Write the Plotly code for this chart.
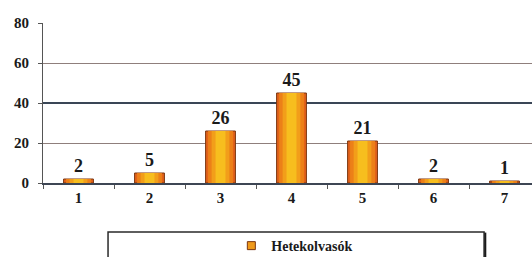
import plotly.graph_objects as go

categories = [1, 2, 3, 4, 5, 6, 7]
values = [2, 5, 26, 45, 21, 2, 1]
series_name = "Hetekolvasók"
y_ticks = [0, 20, 40, 60, 80]

FONT = "'Liberation Serif', 'Times New Roman', 'DejaVu Serif', serif"

fig = go.Figure()

# stepped horizontal gradient: dark orange edges -> yellow centre
layers = [
    (0.42, "#E2621A", dict(color="#7A3510", width=1)),
    (0.35, "#EC8018", dict(width=0)),
    (0.25, "#F29E1A", dict(width=0)),
    (0.14, "#F7BE1E", dict(width=0)),
]
for i, (w, c, ln) in enumerate(layers):
    fig.add_trace(go.Bar(
        x=categories, y=values, width=w,
        marker=dict(color=c, line=ln),
        showlegend=False, hoverinfo="skip",
        text=[str(v) for v in values] if i == 0 else None,
        textposition="outside" if i == 0 else None,
        textfont=dict(family=FONT, size=18, color="#1a1a1a", weight="bold"),
        cliponaxis=False,
    ))

# legend entry
fig.add_trace(go.Scatter(
    x=[None], y=[None], mode="markers", name=series_name,
    marker=dict(symbol="square", size=8, color="#F09A1A",
                line=dict(color="#7A3510", width=1)),
))

# darker grid line at 40 via overlaying axis
fig.add_trace(go.Scatter(x=[None], y=[None], yaxis="y2", showlegend=False))

fig.update_layout(
    width=532, height=257,
    margin=dict(l=43, r=0, t=23, b=74, autoexpand=False),
    paper_bgcolor="white", plot_bgcolor="white",
    barmode="overlay",
    font=dict(family=FONT, color="#1a1a1a"),
    xaxis=dict(
        range=[0.5, 7.387], automargin=False,
        tickvals=categories, ticktext=[str(c) for c in categories],
        tickfont=dict(family=FONT, size=15, color="#1a1a1a", weight="bold"),
        ticks="", showgrid=False,
        showline=True, linecolor="#3d4654", linewidth=2,
        minor=dict(tick0=0.5, dtick=1, ticks="outside", ticklen=4,
                   tickcolor="#555", showgrid=False),
        zeroline=False,
    ),
    yaxis=dict(
        range=[0, 80], tickvals=y_ticks, automargin=False,
        tickfont=dict(family=FONT, size=15, color="#1a1a1a", weight="bold"),
        ticks="outside", ticklen=4, tickcolor="#555",
        showline=True, linecolor="#555", linewidth=1,
        showgrid=True, gridcolor="#8f7f7c", gridwidth=1,
        zeroline=False, ticklabelstandoff=6,
    ),
    yaxis2=dict(
        range=[0, 80], overlaying="y", tickvals=[40], showticklabels=False,
        showgrid=True, gridcolor="#3a4656", gridwidth=2, zeroline=False,
        showline=False, automargin=False,
    ),
    showlegend=True,
    legend=dict(
        x=0.515, xanchor="center", y=-0.394, yanchor="middle",
        orientation="h", bgcolor="rgba(0,0,0,0)",
        font=dict(family=FONT, size=14, color="#1a1a1a", weight="bold"),
        itemwidth=30,
    ),
    shapes=[
        dict(type="rect", xref="paper", yref="paper",
             x0=0.133, x1=0.902, y0=-0.56, y1=-0.306,
             line=dict(color="#2a2a2a", width=1.5), fillcolor="rgba(0,0,0,0)",
             layer="below"),
        dict(type="line", xref="paper", yref="paper",
             x0=0.9045, x1=0.9045, y0=-0.56, y1=-0.31,
             line=dict(color="#1a1a1a", width=2), layer="below"),
    ],
)

fig.write_html(
    "out.html",
    config={"displayModeBar": False},
    post_script="document.body.style.margin='0';document.body.style.overflow='hidden';",
)
